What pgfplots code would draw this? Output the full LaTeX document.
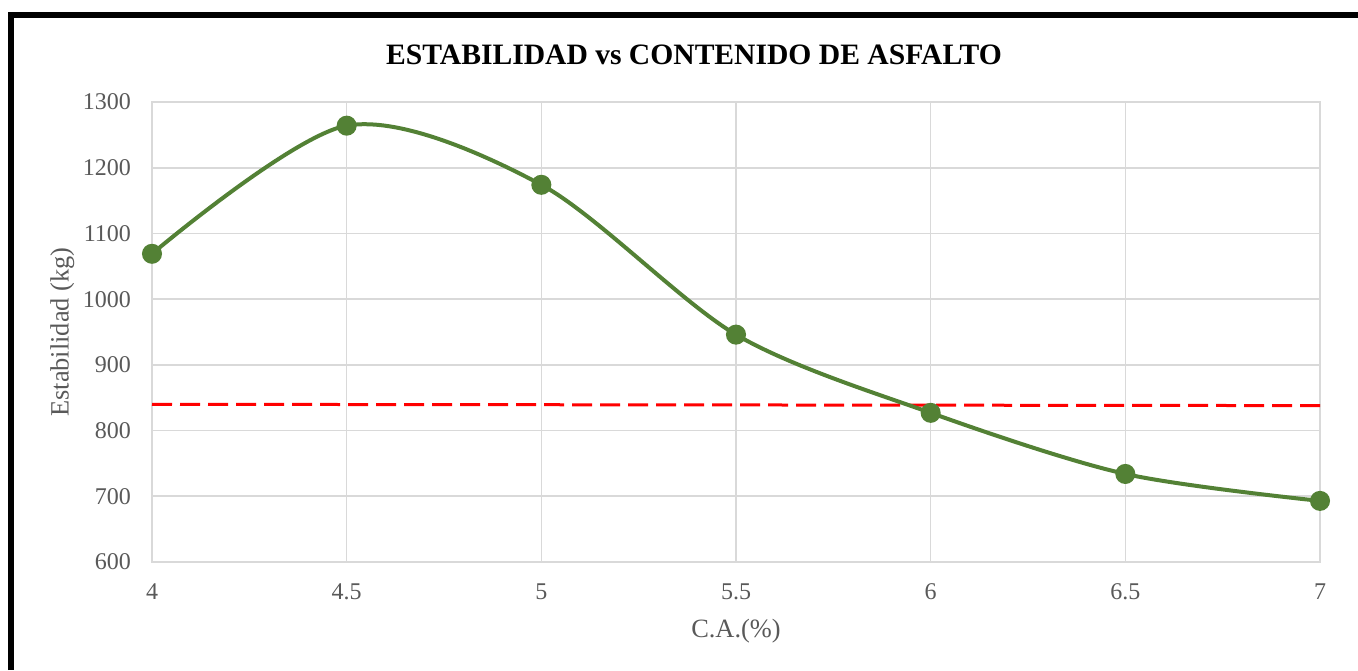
\documentclass[border=0pt]{standalone}
\usepackage{fontspec}
\setmainfont{Liberation Serif}
\usepackage{pgfplots}
\pgfplotsset{compat=1.18}
\definecolor{gridgray}{HTML}{D9D9D9}
\definecolor{ticktext}{HTML}{595959}
\definecolor{linegreen}{HTML}{538135}
\begin{document}
\begin{tikzpicture}
\path[use as bounding box] (0pt,0pt) rectangle (679pt,335pt);
\draw[line width=3pt,black] (5.5pt,0pt) -- (5.5pt,327.5pt) -- (679pt,327.5pt);
\node[font=\fontsize{14.8}{17}\selectfont\bfseries] at (347pt,307.5pt) {ESTABILIDAD vs CONTENIDO DE ASFALTO};
\begin{axis}[
  at={(76pt,54pt)}, anchor=south west,
  scale only axis, width=584pt, height=230pt,
  xmin=4, xmax=7, ymin=600, ymax=1300,
  xtick={4,4.5,...,7}, ytick={600,700,...,1300},
  xticklabels={4,4.5,5,5.5,6,6.5,7},
  /pgf/number format/1000 sep={},
  grid=major,
  major grid style={gridgray, line width=0.8pt},
  axis line style={gridgray, line width=0.8pt},
  tick style={draw=none},
  ticklabel style={font=\fontsize{12}{14}\selectfont, text=ticktext},
  /pgf/number format/assume math mode=true,
  yticklabel style={xshift=-7pt},
  xticklabel style={yshift=-7.5pt},
  xlabel={C.A.(\%)}, ylabel={Estabilidad (kg)},
  label style={font=\fontsize{13.2}{15}\selectfont, text=ticktext},
  xlabel style={yshift=-2.5pt},
  ylabel style={yshift=-2.5pt},
  clip=false,
]
\addplot[red, line width=1.5pt, dash pattern=on 10pt off 4pt] coordinates {(4,840) (7,838)};
\addplot[linegreen, line width=2pt, smooth, tension=0.5, mark=*, mark size=4pt, mark options={fill=linegreen, draw=linegreen}] coordinates {
(4,1069) (4.5,1264) (5,1174) (5.5,946) (6,827) (6.5,734) (7,693)};
\end{axis}
\end{tikzpicture}
\end{document}
